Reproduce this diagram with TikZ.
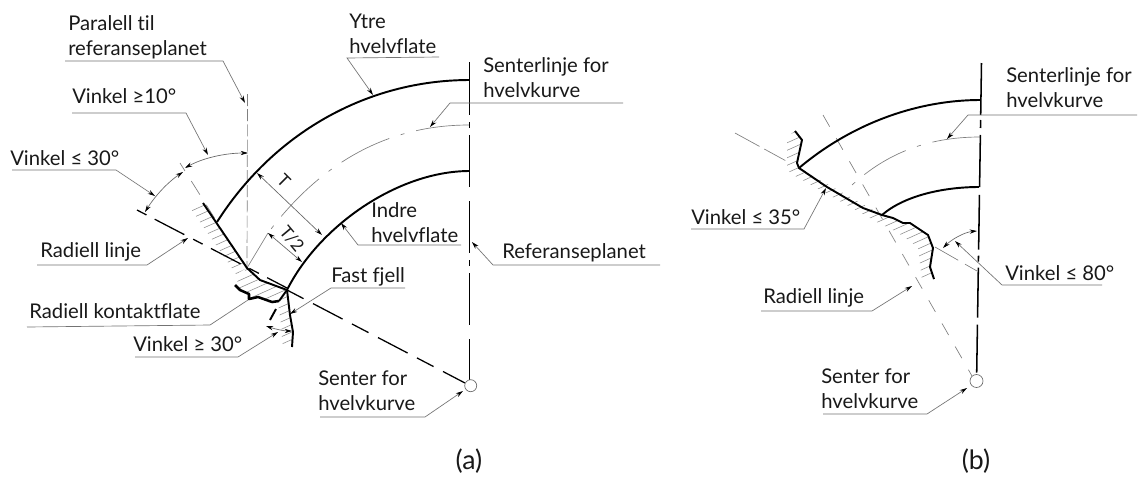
\documentclass[tikz,border=0pt]{standalone}
\usepackage{fontspec}
\setmainfont{Lato}[Ligatures=NoCommon]
\usetikzlibrary{arrows.meta}
\tikzset{
  lead/.style={draw=black!55,line width=.5pt},
  leadarrow/.style={lead,-{Stealth[length=5.5pt,width=3.2pt,black]}},
  dim/.style={draw=black!60,line width=.5pt,{Stealth[length=5.5pt,width=3.2pt,black]}-{Stealth[length=5.5pt,width=3.2pt,black]}},
  surf/.style={draw=black,line width=1.45pt,line join=round},
  hatchln/.style={draw=black!45,line width=.42pt},
  thinln/.style={draw=black!50,line width=.5pt},
  txt/.style={anchor=base west,inner sep=0pt,font=\fontsize{15.2pt}{18pt}\selectfont,text=black!90},
  figcap/.style={anchor=center,inner sep=0pt,font=\fontsize{20pt}{24pt}\selectfont,text=black!90},
  dimtxt/.style={anchor=center,inner sep=0pt,font=\fontsize{13pt}{15pt}\selectfont,text=black!90}
}
\begin{document}
\begin{tikzpicture}[x=.75pt,y=-.75pt]
\useasboundingbox (0,0) rectangle (1140,476);
\fill[white] (0,0) rectangle (1140,476);
% ---------- key points (a)
\coordinate (aO) at (470.7,385.7);
\coordinate (aTop) at (469.7,62);
\coordinate (aBot) at (469.7,380);
\coordinate (aOut1) at (469.7,80);
\coordinate (aOut2) at (217,222);
\coordinate (aIn1) at (469.7,171);
\coordinate (aIn2) at (287,290);
\coordinate (aMid1) at (469,125);
\coordinate (aMid2) at (268,233);
\coordinate (aR1) at (203,203);
\coordinate (aR2) at (247,268);
\coordinate (aR3) at (260,280);
% hatching (a)
\begin{scope}
\clip (203,203) -- (247,268) -- (236,274) -- (191,209) -- cycle;
\foreach \c in {201,208.5,...,310} \draw[hatchln] (180,\c) -- (330,{\c-67});
\end{scope}
\begin{scope}
\clip (247,268) -- (260,280) -- (287,290) -- (279,302) -- (272,302) -- (258,297) -- (249,299) -- (249,294) -- (240,290) -- (235,285) -- cycle;
\foreach \c in {292,299.5,...,345} \draw[hatchln] (180,\c) -- (330,{\c-67});
\end{scope}
\begin{scope}
\clip (287,290) -- (278,303) -- (281,325) -- (283,349) -- (292,349) -- (293,332) -- (290,315) -- cycle;
\foreach \c in {322,329.5,...,392} \draw[hatchln] (180,\c) -- (330,{\c-67});
\end{scope}
% reference lines (a)
\draw[thinln,dash pattern=on 9pt off 2.4pt] (247.5,94) -- (aR2);
\draw[thinln,dash pattern=on 7pt off 9pt on 12pt off 9pt on 12pt off 9pt] (180,163) -- (aOut2);
\draw[thinln,dash pattern=on 40pt off 9pt on 3pt off 9pt] (aMid1) .. controls (385,125) and (319,165) .. (aMid2);
\draw[thinln] (aR2) -- (aMid2);
% radial dashed line
\draw[draw=black,line width=.95pt,dash pattern=on 8pt off 7pt on 25pt off 7.5pt] (137,210) -- (287,288);
\draw[draw=black,line width=.95pt,dash pattern=on 14pt off 8pt on 25pt off 8pt] (aIn2) -- (465,383);
% centre line (a)
\draw[draw=black,line width=1.15pt,dash pattern=on 39.75pt off 5.25pt on 4.5pt off 5.25pt on 39pt off 10.5pt on 39pt off 5.25pt on 4.5pt off 5.25pt on 39pt off 10.5pt on 31pt off 30pt] (aTop) -- (aBot);
\draw[draw=black!60,line width=.5pt,fill=white] (aO) circle (6);
% surfaces (a)
\draw[surf] (aOut1) .. controls (366,80) and (273,134) .. (aOut2);
\draw[surf] (aIn1) .. controls (398,171) and (319,226) .. (aIn2);
\draw[surf] (aR1) -- (aR2) -- (aR3) -- (aIn2);
\draw[surf,line width=1.9pt] (235,285) -- (240,290) -- (249,294) -- (249,299) -- (258,297) -- (272,302) -- (279,301);
\draw[surf] (279,301) -- (aIn2);
\draw[surf] (276,309) -- (270,320);
\draw[surf] (aIn2) -- (290,315) -- (293,332) -- (292,347);
% dimensions (a)
\draw[dim] (257,173) -- (322,235);
\draw[dim] (aMid2) -- (302,262);
\draw[dim] (248,153) .. controls (225,153) and (203,158) .. (185,168);
\draw[dim] (183,172) .. controls (168,182) and (155,196) .. (145,212);
\draw[dim] (266,326) .. controls (275,329) and (284,331) .. (292,331);
\node[dimtxt,rotate=-45] (lT) at (284,181) {T};
\node[dimtxt,rotate=-50] (lT2) at (292,239) {T/2};
% leaders (a)
\draw[leadarrow] (65,61) -- (223,61) -- (245,103);
\draw[leadarrow] (72,113) -- (186,113) -- (208,155);
\draw[leadarrow] (12,170) -- (116,170) -- (155,196);
\draw[leadarrow] (37,265) -- (147,265) -- (188,238);
\draw[lead] (27,327) -- (210,325) -- (248,300);
\draw[leadarrow] (135,357) -- (238,357) -- (278,332);
\draw[leadarrow] (405,288) -- (331,288) -- (290,314);
\draw[leadarrow] (439,57) -- (347,58) -- (373,95);
\draw[leadarrow] (623,103) -- (450,103) -- (430,127);
\draw[leadarrow] (461,245) -- (358,245) -- (341,223);
\draw[leadarrow] (660,265) -- (493,265) -- (472,242);
\draw[leadarrow] (320,417) -- (425,417) -- (463,391);
% labels (a)
\node[txt] (a1) at (68,30) {Paralell til};
\node[txt] (a2) at (68,55) {referanseplanet};
\node[txt] (a3) at (72,103) {Vinkel ≥10°};
\node[txt] (a4) at (10,165) {Vinkel ≤ 30°};
\node[txt] (a5) at (40,257) {Radiell linje};
\node[txt] (a6) at (29,318) {Radiell kontaktflate};
\node[txt] (a7) at (133,351) {Vinkel ≥ 30°};
\node[txt] (a8) at (331,282) {Fast fjell};
\node[txt] (a9) at (318,385) {Senter for};
\node[txt] (a10) at (318,410) {hvelvkurve};
\node[txt] (a11) at (349,28) {Ytre};
\node[txt] (a12) at (349,53) {hvelvflate};
\node[txt] (a13) at (483,72) {Senterlinje for};
\node[txt] (a14) at (483,97) {hvelvkurve};
\node[txt] (a15) at (371,217) {Indre};
\node[txt] (a16) at (371,242) {hvelvflate};
\node[txt] (a17) at (502,258) {Referanseplanet};
\node[figcap] (capa) at (469,461) {(a)};
% ---------- (b)
\coordinate (bO) at (976.5,381);
\coordinate (bTop) at (981.5,63);
\coordinate (bBot) at (976.7,373);
\coordinate (bOut1) at (980.5,100);
\coordinate (bOut2) at (799,168);
\coordinate (bIn1) at (979,187);
\coordinate (bIn2) at (882,215);
\coordinate (bMid1) at (980,137);
\coordinate (bMid2) at (852,185);
\begin{scope}
\clip (795,131) -- (802,140) -- (797,163) -- (799,168) -- (882,215) -- (893,218) -- (903,223) -- (910,223) -- (928,235) -- (933,247) -- (930,267) -- (934,279) -- (922,281) -- (918,247) -- (897,232) -- (877,222) -- (790,173) -- (787,167) -- (787,137) -- cycle;
\foreach \c in {128,135.5,...,360} \draw[hatchln] (770,\c) -- (950,{\c-81});
\end{scope}
\draw[thinln,dash pattern=on 10pt off 10pt] (823,115) -- (972,376);
\draw[thinln,dash pattern=on 21pt off 4pt on 18pt off 100pt on 60pt] (735,133) -- (bOut2);
\draw[thinln,dash pattern=on 20pt off 6pt] (935,247) -- (977,271);
\draw[thinln,dash pattern=on 36pt off 9pt on 3pt off 9pt] (bMid1) .. controls (925,137) and (885,155) .. (bMid2);
\draw[draw=black,line width=1.15pt,dash pattern=on 39pt off 3.75pt on 6pt off 5.25pt on 39pt off 6pt on 41pt off 4.5pt on 4.5pt off 4.5pt on 37.5pt off 5.25pt on 36pt] (bTop) -- (bBot);
\draw[draw=black!60,line width=.5pt,fill=white] (bO) circle (6.5);
\draw[surf] (bOut1) .. controls (915,100) and (850,125) .. (bOut2);
\draw[surf] (bIn1) .. controls (945,187) and (905,195) .. (bIn2);
\draw[surf] (795,131) -- (802,140) -- (797,163) -- (bOut2) -- (827,187) -- (863,208) -- (bIn2) -- (893,218) -- (903,223) -- (910,223) -- (928,235) -- (933,248) -- (930,267) -- (934,279);
\draw[dim] (977,231) .. controls (965,232) and (952,239) .. (943,248);
\draw[leadarrow] (1137,115) -- (968,115) -- (947,139);
\draw[leadarrow] (691,229) -- (804,229) -- (826,188);
\draw[leadarrow] (761,311) -- (872,311) -- (912,286);
\draw[leadarrow] (823,414) -- (927,414) -- (967,388);
\draw[leadarrow] (1102,285) -- (1002,285) -- (955,241);
\node[txt] (b1) at (1006,82) {Senterlinje for};
\node[txt] (b2) at (1006,107) {hvelvkurve};
\node[txt] (b3) at (691,224) {Vinkel ≤ 35°};
\node[txt] (b4) at (763,303) {Radiell linje};
\node[txt] (b5) at (821,383) {Senter for};
\node[txt] (b6) at (821,408) {hvelvkurve};
\node[txt] (b7) at (1005,280) {Vinkel ≤ 80°};
\node[figcap] (capb) at (976,461) {(b)};
\end{tikzpicture}
\end{document}
